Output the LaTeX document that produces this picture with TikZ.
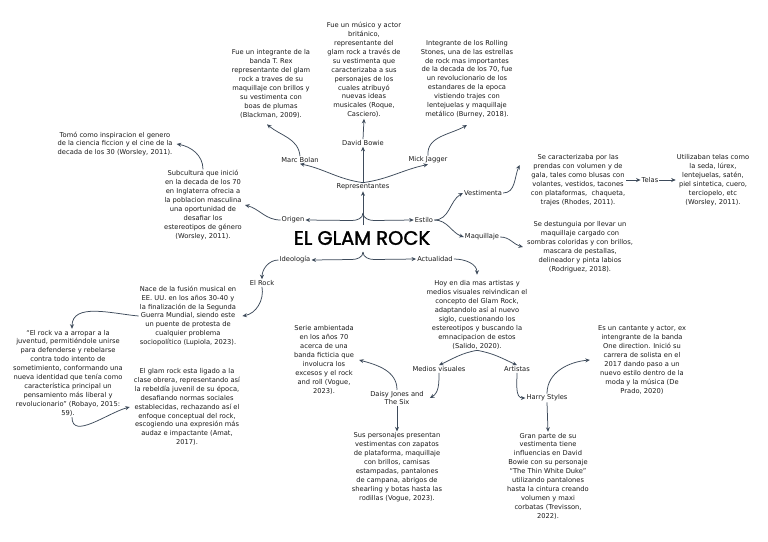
\documentclass[tikz,border=0pt]{standalone}
\usepackage{fontspec}
\usepackage{tikz}
\usetikzlibrary{arrows.meta,positioning}
\setmainfont{DejaVu Sans}
\newfontfamily\headfont{Poppins}[FakeBold=1.6]
\definecolor{ink}{HTML}{1A1A1A}
\definecolor{lnk}{HTML}{3E4B5B}
\tikzset{
  note/.style={align=center,font=\fontsize{6.7}{8.9}\selectfont,text=ink,inner sep=1pt},
  lab/.style={note},
  head/.style={font=\headfont\fontsize{19.5}{20}\selectfont,text=black,inner sep=0pt},
  ar/.style={-{Stealth[length=4.5pt,width=4pt]},line width=0.75pt,draw=lnk},
}

\begin{document}
\begin{tikzpicture}[x=1pt,y=1pt]
\useasboundingbox[fill=white] (0,0) rectangle (768,-541);
% centro
\node[head] (title) at (362,-238) {EL GLAM ROCK};
\coordinate (hubT) at (363,-225);
\coordinate (tipT) at (363,-213);
\coordinate (tipB) at (363,-252);
% representantes
\node[lab] (rep) at (363,-187) {Representantes};
\node[lab] (bolan) at (300,-160) {Marc Bolan};
\node[lab] (bowie) at (363,-143) {David Bowie};
\node[lab] (mick) at (428,-160) {Mick Jagger};
\node[note] (bolanTxt) at (271,-84) {Fue un integrante de la\\ banda T. Rex\\ representante del glam\\ rock a traves de su\\ maquillaje con brillos y\\ su vestimenta con\\ boas de plumas\\ (Blackman, 2009).};
\node[note] (bowieTxt) at (364,-70) {Fue un músico y actor\\ británico,\\ representante del\\ glam rock a través de\\ su vestimenta que\\ caracterizaba a sus\\ personajes de los\\ cuales atribuyó\\ nuevas ideas\\ musicales (Roque,\\ Casciero).};
\node[note] (mickTxt) at (467,-79) {Integrante de los Rolling\\ Stones, una de las estrellas\\ de rock mas importantes\\ de la decada de los 70, fue\\ un revolucionario de los\\ estandares de la epoca\\ vistiendo trajes con\\ lentejuelas y maquillaje\\ metálico (Burney, 2018).};
% origen
\node[lab] (origen) at (293,-220) {Origen};
\node[note] (sub) at (203,-205) {Subcultura que inició\\ en la decada de los 70\\ en Inglaterra ofrecia a\\ la poblacion masculina\\ una oportunidad de\\ desafiar los\\ estereotipos de género\\ (Worsley, 2011).};
\node[note] (tomo) at (115,-144) {Tomó como inspiracion el genero\\ de la ciencia ficcion y el cine de la\\ decada de los 30 (Worsley, 2011).};
% estilo
\node[lab] (estilo) at (424,-220) {Estilo};
\node[lab] (vest) at (483,-193) {Vestimenta};
\node[lab] (maq) at (482,-237) {Maquillaje};
\node[note] (vestTxt) at (578,-180) {Se caracterizaba por las\\ prendas con volumen y de\\ gala, tales como blusas con\\ volantes, vestidos, tacones\\ con plataformas,\ \ chaqueta,\\ trajes (Rhodes, 2011).};
\node[lab] (telas) at (650,-180) {Telas};
\node[note] (telasTxt) at (713,-180) {Utilizaban telas como\\ la seda, lúrex,\\ lentejuelas, satén,\\ piel sintetica, cuero,\\ terciopelo, etc\\ (Worsley, 2011).};
\node[note] (maqTxt) at (580,-247) {Se destunguia por llevar un\\ maquillaje cargado con\\ sombras coloridas y con brillos,\\ mascara de pestallas,\\ delineador y pinta labios\\ (Rodriguez, 2018).};
% ideologia
\node[lab] (ideo) at (295,-260) {Ideología};
\node[lab] (elrock) at (262,-283) {El Rock};
\node[note] (nace) at (188,-316) {Nace de la fusión musical en\\ EE. UU. en los años 30-40 y\\ la finalización de la Segunda\\ Guerra Mundial, siendo este\\ un puente de protesta de\\ cualquier problema\\ sociopolítico (Lupiola, 2023).};
\node[note] (quote) at (68,-373) {“El rock va a arropar a la\\ juventud, permitiéndole unirse\\ para defenderse y rebelarse\\ contra todo intento de\\ sometimiento, conformando una\\ nueva identidad que tenía como\\ característica principal un\\ pensamiento más liberal y\\ revolucionario” (Robayo, 2015:\\ 59).};
\node[note] (glam) at (187,-407) {El glam rock esta ligado a la\\ clase obrera, representando así\\ la rebeldía juvenil de su época,\\ desafiando normas sociales\\ establecidas, rechazando así el\\ enfoque conceptual del rock,\\ escogiendo una expresión más\\ audaz e impactante (Amat,\\ 2017).};
% actualidad
\node[lab] (act) at (435,-259) {Actualidad};
\node[note] (hoy) at (477,-315) {Hoy en dia mas artistas y\\ medios visuales reivindican el\\ concepto del Glam Rock,\\ adaptandolo así al nuevo\\ siglo, cuestionando los\\ estereotipos y buscando la\\ emnacipacion de estos\\ (Salido, 2020).};
\node[lab] (medios) at (439,-369) {Medios visuales};
\node[lab] (artistas) at (517,-369) {Artistas};
\node[lab] (daisy) at (397,-398) {Daisy Jones and\\ The Six};
\node[note] (serie) at (324,-360) {Serie ambientada\\ en los años 70\\ acerca de una\\ banda ficticia que\\ involucra los\\ excesos y el rock\\ and roll (Vogue,\\ 2023).};
\node[note] (sus) at (397,-467) {Sus personajes presentan\\ vestimentas con zapatos\\ de plataforma, maquillaje\\ con brillos, camisas\\ estampadas, pantalones\\ de campana, abrigos de\\ shearling y botas hasta las\\ rodillas (Vogue, 2023).};
\node[lab] (harry) at (547,-398) {Harry Styles};
\node[note] (cant) at (642,-360) {Es un cantante y actor, ex\\ intengrante de la banda\\ One direction. Inició su\\ carrera de solista en el\\ 2017 dando paso a un\\ nuevo estilo dentro de la\\ moda y la música (De\\ Prado, 2020)};
\node[note] (gran) at (548,-476) {Gran parte de su\\ vestimenta tiene\\ influencias en David\\ Bowie con su personaje\\ “The Thin White Duke”\\ utilizando pantalones\\ hasta la cintura creando\\ volumen y maxi\\ corbatas (Trevisson,\\ 2022).};

% conectores del centro
\draw[ar] (hubT) -- (rep);
\draw[ar] (tipT) to[out=-90,in=0] (352,-220.5) -- (origen.east);
\draw[ar] (tipT) to[out=-90,in=180] (374,-220.5) -- (estilo.west);
\draw[ar] (tipB) to[out=-90,in=0] (352,-259.5) -- (ideo.east);
\draw[ar] (tipB) to[out=-90,in=180] (374,-259.5) -- (act.west);
% representantes
\draw[ar] (rep.north) -- (bowie.south);
\draw[ar] (rep.north) to[out=172,in=-12] (bolan.south);
\draw[ar] (rep.north) to[out=8,in=192] (mick.south);
\draw[ar] (bowie.north) -- (bowieTxt.south);
\draw[ar] (bolan.north) to[out=95,in=-40] ([xshift=-4pt,yshift=-5pt]bolanTxt.south);
\draw[ar] (mick.north) to[out=95,in=-150] ([yshift=-6pt]mickTxt.south);
% origen
\draw[ar] (origen.west) to[out=180,in=-15] ([xshift=2pt]sub.east);
\draw[ar] (sub.north) to[out=90,in=-10] ([xshift=3pt]tomo.east);
% estilo
\draw[ar] (estilo.east) to[out=0,in=210] (vest.west);
\draw[ar] (estilo.east) to[out=0,in=160] (maq.west);
\draw[ar] (vest.east) to[out=0,in=-115] ([xshift=-10pt,yshift=15pt]vestTxt.west);
\draw[ar] (maq.east) to[out=0,in=165] ([xshift=-3pt]maqTxt.west);
\draw[ar] (vestTxt.east) -- (telas.west);
\draw[ar] (telas.east) -- (telasTxt.west);
% ideologia
\draw[ar] (ideo.west) to[out=180,in=90] (elrock.north);
\draw[ar] (elrock.south) to[out=-80,in=10] ([xshift=5pt]nace.east);
\draw[ar] (nace.west) to[out=175,in=90] ([xshift=4pt]quote.north);
\draw[ar] ([xshift=4pt]quote.south) to[out=-90,in=195] ([xshift=-3pt]glam.west);
% actualidad
\draw[ar] (act.east) to[out=0,in=90] ([yshift=5pt]hoy.north);
\draw[ar] (hoy.south) to[out=190,in=25] (medios.north);
\draw[ar] (hoy.south) to[out=-10,in=155] (artistas.north);
\draw[ar] (medios.south) to[out=-90,in=30] ([xshift=5pt]daisy.east);
\draw[ar] (daisy.north) to[out=90,in=-15] ([xshift=4pt]serie.east);
\draw[ar] (daisy.south) -- (sus.north);
\draw[ar] (artistas.south) to[out=-90,in=180] (harry.west);
\draw[ar] (harry.north) to[out=90,in=185] ([xshift=-7pt]cant.west);
\draw[ar] (harry.south) -- (gran.north);
\end{tikzpicture}
\end{document}
